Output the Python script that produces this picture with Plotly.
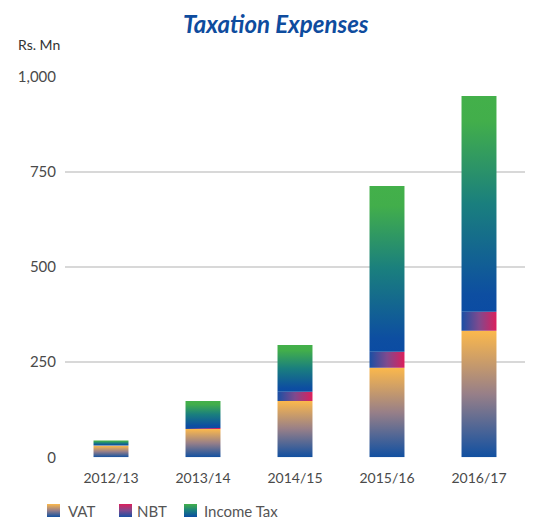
import plotly.graph_objects as go

# Taxation expenses by year (Rs. Mn)
categories = ["2012/13", "2013/14", "2014/15", "2015/16", "2016/17"]
vat = [30, 74, 148, 235, 332]
nbt = [1, 3, 24, 42, 50]
income_tax = [13, 71, 123, 435, 566]
y_ticks = [0, 250, 500, 750, 1000]
legend_labels = ["VAT", "NBT", "Income Tax"]

W, H = 540, 520
BAR_W = 0.38
FONT = "Lato"

# (name, values, gradient direction, bar colorscale, legend swatch colorscale)
series = [
    ("VAT", vat, "vertical",
     [[0, "#1150a1"], [0.5, "#977f88"], [1, "#fbb84c"]],
     [[0, "#1150a1"], [0.5, "#977f88"], [1, "#fbb84c"]]),
    ("NBT", nbt, "horizontal",
     [[0, "#1a4fa4"], [0.5, "#7f4a8e"], [1, "#dc1f5c"]],
     [[0, "#1a4fa4"], [0.5, "#7f4a8e"], [1, "#dc1f5c"]]),
    ("Income Tax", income_tax, "vertical",
     [[0, "#0b4ca3"], [0.08, "#0d4ea1"], [0.5, "#1a7f7e"], [0.88, "#42ae4b"], [1, "#43b04a"]],
     [[0, "#0b4ca3"], [0.5, "#1a7f7e"], [1, "#43b04a"]]),
]

fig = go.Figure()

# stacked bars drawn as gradient-filled rectangles on a numeric category axis
base = [0] * len(categories)
for name, vals, direction, cscale, _ in series:
    for i, (b, v) in enumerate(zip(base, vals)):
        x0, x1 = i - BAR_W / 2, i + BAR_W / 2
        y0, y1 = b, b + v
        start, stop = (y0, y1) if direction == "vertical" else (x0, x1)
        fig.add_trace(go.Scatter(
            x=[x0, x1, x1, x0, x0], y=[y0, y0, y1, y1, y0],
            mode="lines", line=dict(width=0), fill="toself",
            fillgradient=dict(type=direction, colorscale=cscale, start=start, stop=stop),
            name=name, showlegend=False,
            hovertemplate=f"{name} {categories[i]}: {v}<extra></extra>",
            xaxis="x", yaxis="y",
        ))
    base = [b + v for b, v in zip(base, vals)]

# legend row, placed on a pixel-space overlay axis (y measured upward from the bottom edge)
swatch_x = [47, 119, 184]
text_x = [66, 135, 202]
sw, s_bot, s_top = 13, H - 517, H - 504
for (name, _, _, _, lscale), sx, tx in zip(series, swatch_x, text_x):
    fig.add_trace(go.Scatter(
        x=[sx, sx + sw, sx + sw, sx, sx], y=[s_bot, s_bot, s_top, s_top, s_bot],
        mode="lines", line=dict(width=0), fill="toself",
        fillgradient=dict(type="vertical", colorscale=lscale, start=s_bot, stop=s_top),
        showlegend=False, hoverinfo="skip", xaxis="x2", yaxis="y2",
    ))
    fig.add_annotation(x=tx, y=H - 511, xref="x2", yref="y2", text=name,
                       showarrow=False, xanchor="left", yanchor="middle",
                       font=dict(family=FONT, size=15, color="#555555"))

px_y = lambda p: (H - p) / H

fig.update_layout(
    width=W, height=H,
    margin=dict(l=0, r=0, t=0, b=0, autoexpand=False),
    paper_bgcolor="white", plot_bgcolor="rgba(0,0,0,0)",
    showlegend=False,
    xaxis=dict(domain=[65 / W, 525 / W], range=[-0.5, len(categories) - 0.5],
               tickvals=list(range(len(categories))), ticktext=categories,
               showgrid=False, zeroline=False, showline=False, ticks="",
               ticklabelstandoff=11, automargin=False,
               tickfont=dict(family=FONT, size=14, color="#4a4a4a"),
               anchor="y", fixedrange=True),
    yaxis=dict(domain=[px_y(457.3), px_y(76.3)], range=[0, 1000],
               tickvals=y_ticks, tickformat=",", showgrid=True,
               gridcolor="#d8d8d8", gridwidth=1.6, zeroline=False, showline=False,
               ticks="", ticklabelstandoff=8, automargin=False,
               tickfont=dict(family=FONT, size=15, color="#4a4a4a"),
               anchor="x", fixedrange=True),
    xaxis2=dict(domain=[0, 1], range=[0, W], visible=False, anchor="y2",
                automargin=False, fixedrange=True),
    yaxis2=dict(domain=[0, 1], range=[0, H], visible=False, anchor="x2",
                automargin=False, fixedrange=True),
)

fig.add_annotation(x=276 / W, y=px_y(24), xref="paper", yref="paper",
                   text="Taxation Expenses", showarrow=False,
                   xanchor="center", yanchor="middle",
                   font=dict(family=FONT, size=24, color="#0e4c9e",
                             weight="bold", style="italic"))
fig.add_annotation(x=16 / W, y=px_y(44), xref="paper", yref="paper",
                   text="Rs. Mn", showarrow=False, xanchor="left", yanchor="middle",
                   font=dict(family=FONT, size=14, color="#333333"))

fig.write_html("out.html")
